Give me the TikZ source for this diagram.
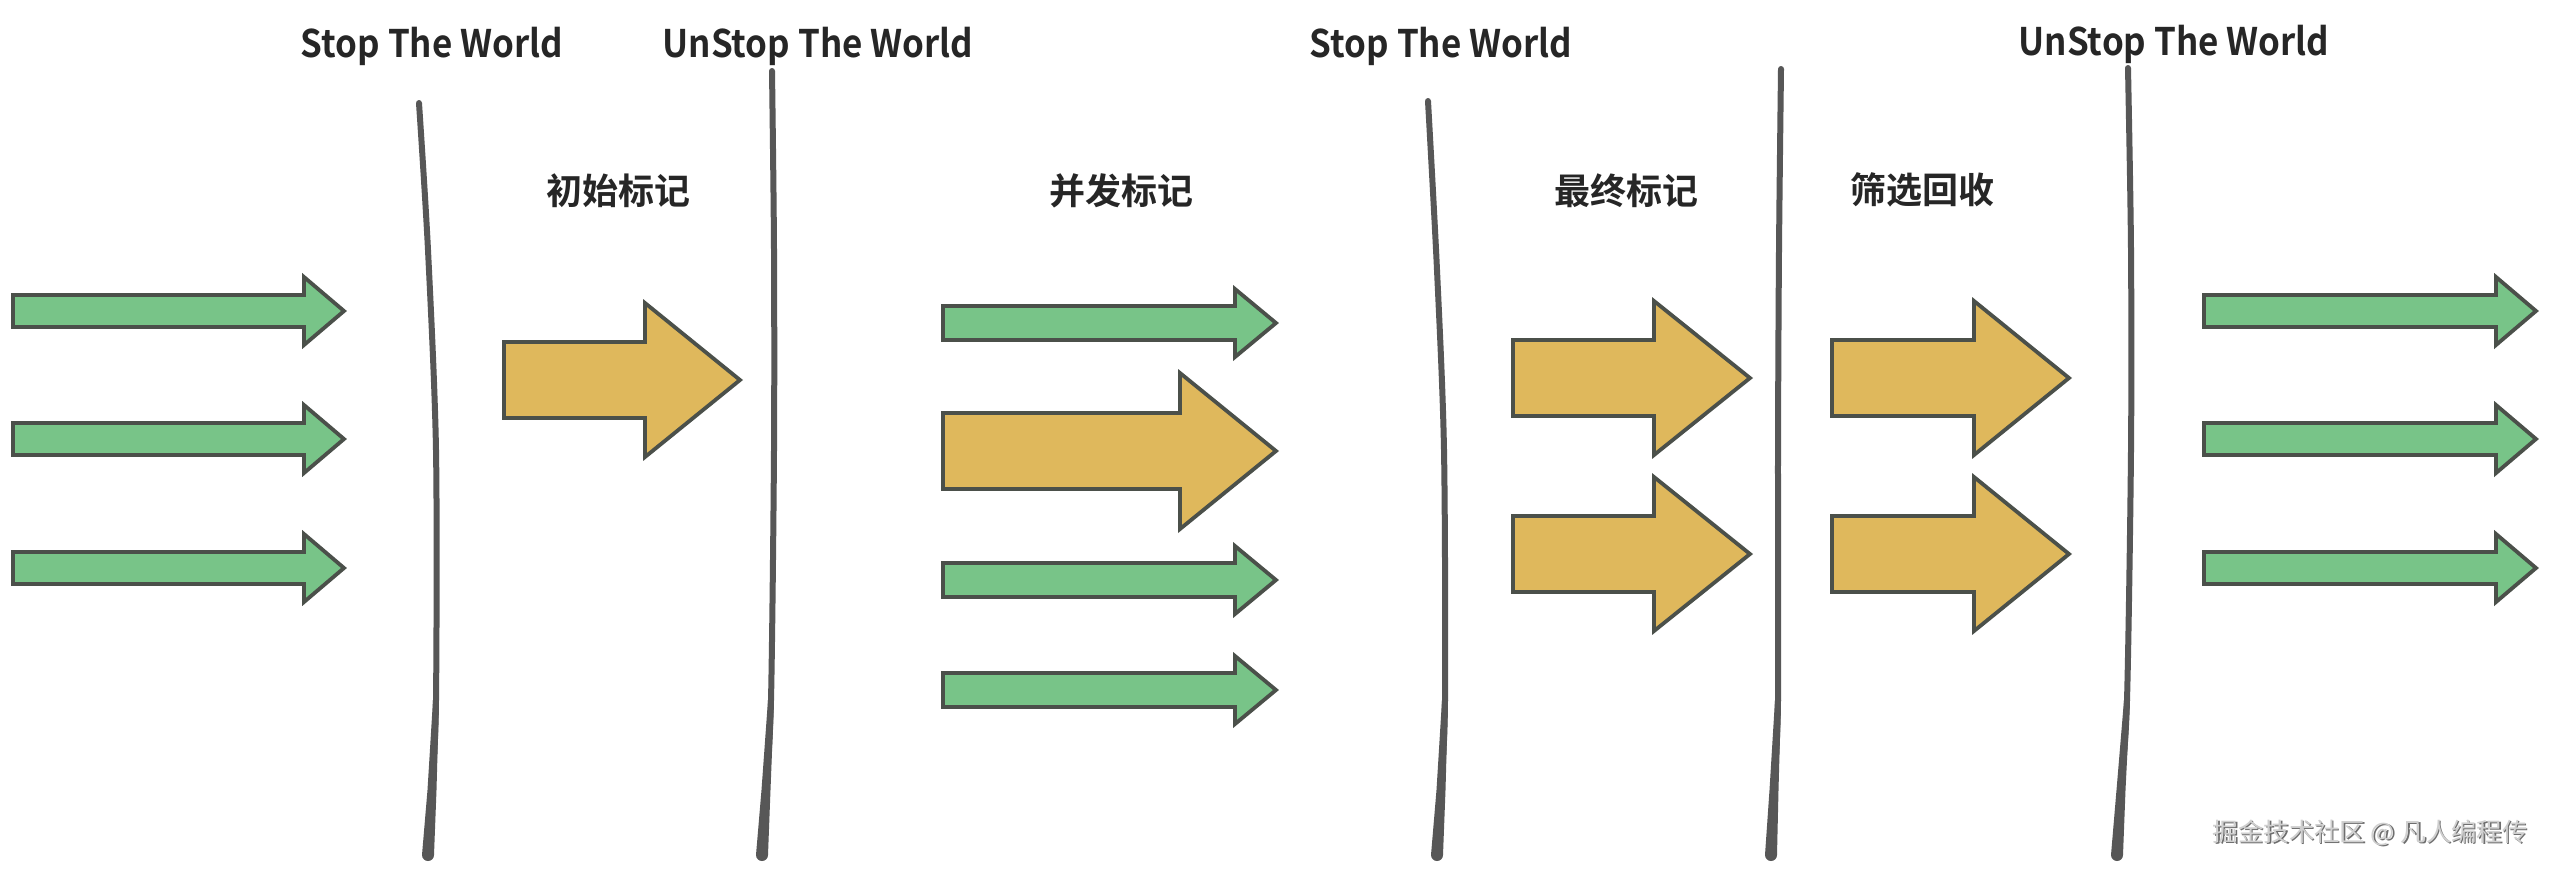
\documentclass[tikz,border=0pt]{standalone}
\usepackage{fontspec}
\newfontfamily\cjk{Noto Sans CJK SC}[BoldFont={Noto Sans CJK SC Bold}]
\newfontfamily\cjkt{Noto Sans CJK SC}[BoldFont={Noto Sans CJK SC Bold}, FakeStretch=0.92]
\definecolor{gfill}{HTML}{78C488}
\definecolor{yfill}{HTML}{DFB85C}
\definecolor{astroke}{HTML}{4B504A}
\definecolor{vline}{HTML}{575757}
\definecolor{txt}{HTML}{262626}
\definecolor{wm}{HTML}{CFCFCF}
\definecolor{wmshadow}{HTML}{6E6E6E}
\tikzset{
  garrow/.style={fill=gfill, draw=astroke, line width=1.9pt, line join=miter},
  yarrow/.style={fill=yfill, draw=astroke, line width=1.9pt, line join=miter},
  worldline/.style={draw=vline, line width=3pt, line cap=round},
  worldbase/.style={fill=vline},
  title/.style={text=txt, font=\cjkt\bfseries\fontsize{19}{22}\selectfont, anchor=base, inner sep=0pt},
  phase/.style={text=txt, font=\cjk\bfseries\fontsize{18}{22}\selectfont, anchor=base, inner sep=0pt},
  wmstyle/.style={font=\cjk\fontsize{12.7}{15}\selectfont, anchor=base east, inner sep=0pt}
}
% style, left, head base, tip, y centre, shaft half, head half
\newcommand\blockarrow[7]{%
  \draw[#1] (#2,#5-#6) -- (#3,#5-#6) -- (#3,#5-#7) -- (#4,#5) -- (#3,#5+#7) -- (#3,#5+#6) -- (#2,#5+#6) -- cycle;}
% vertical sketch line through six points
\newcommand\worldline[6]{%
  \draw[worldline] plot[smooth] coordinates {#1 #2 #3 #4 #5 #6};}
% tapered brush end: x at 700, x at 790, x at bottom
\newcommand\brushend[3]{%
  \fill[worldbase] (#1-3,700) -- (#2-4.5,790) -- (#3-6,855)
    arc[start angle=180, end angle=0, radius=6] -- (#2+4.5,790) -- (#1+3,700) -- cycle;}
\begin{document}
\begin{tikzpicture}[x=0.5pt,y=-0.5pt]
\useasboundingbox[fill=white] (0,0) rectangle (2550,869);

% titles
\node[title] (stw1) at (432,57) {Stop The World};
\node[title] (ustw1) at (818,57) {UnStop The World};
\node[title] (stw2) at (1441,57) {Stop The World};
\node[title] (ustw2) at (2174,55) {UnStop The World};

% phases
\node[phase] (p1) at (618,204) {初始标记};
\node[phase] (p2) at (1121,204) {并发标记};
\node[phase] (p3) at (1626,204) {最终标记};
\node[phase] (p4) at (1922,203) {筛选回收};

% vertical lines
\worldline{(419,103)}{(428,250)}{(436,450)}{(436,700)}{(432,790)}{(428,855)}
\brushend{436}{432}{428}
\worldline{(772,71)}{(774,250)}{(774,450)}{(771,700)}{(766,790)}{(762,855)}
\brushend{771}{766}{762}
\worldline{(1428,101)}{(1437,270)}{(1444,450)}{(1445,700)}{(1441,790)}{(1437,855)}
\brushend{1445}{1441}{1437}
\worldline{(1781,69)}{(1779,250)}{(1778,450)}{(1778,700)}{(1774,790)}{(1771,855)}
\brushend{1778}{1774}{1771}
\worldline{(2128,68)}{(2131,250)}{(2131,450)}{(2127,700)}{(2121,790)}{(2117,855)}
\brushend{2127}{2121}{2117}

% column 1
\blockarrow{garrow}{13}{304}{344}{311}{16}{34}
\blockarrow{garrow}{13}{304}{344}{439}{16}{34}
\blockarrow{garrow}{13}{304}{344}{568}{16}{34}
% column 2
\blockarrow{yarrow}{504}{645}{740}{380}{38}{77}
% column 3
\blockarrow{garrow}{943}{1235}{1276}{323}{17}{34}
\blockarrow{yarrow}{943}{1180}{1276}{451}{38}{78}
\blockarrow{garrow}{943}{1235}{1276}{580}{17}{34}
\blockarrow{garrow}{943}{1235}{1276}{690}{17}{34}
% column 4
\blockarrow{yarrow}{1513}{1654}{1750}{378}{38}{77}
\blockarrow{yarrow}{1513}{1654}{1750}{554}{38}{77}
% column 5
\blockarrow{yarrow}{1832}{1974}{2069}{378}{38}{77}
\blockarrow{yarrow}{1832}{1974}{2069}{554}{38}{77}
% column 6
\blockarrow{garrow}{2204}{2496}{2536}{311}{16}{34}
\blockarrow{garrow}{2204}{2496}{2536}{439}{16}{34}
\blockarrow{garrow}{2204}{2496}{2536}{568}{16}{34}

% watermark (embossed: dark shadow under light text)
\node[wmstyle, text=wmshadow] (wmshade) at (2529.5,842.5) {掘金技术社区 @ 凡人编程传};
\node[wmstyle, text=wm] (wmark) at (2528,841) {掘金技术社区 @ 凡人编程传};
\end{tikzpicture}
\end{document}
